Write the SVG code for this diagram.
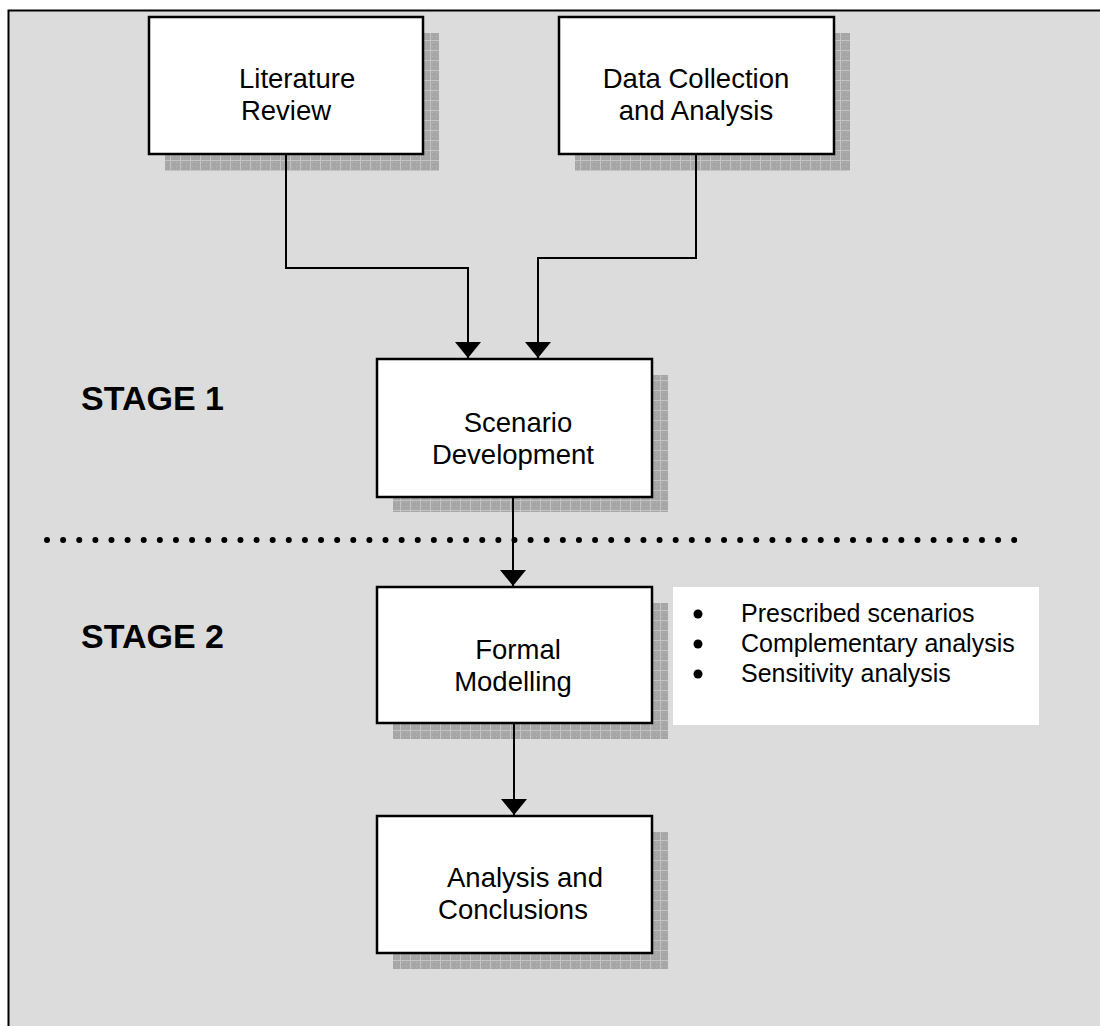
<svg xmlns="http://www.w3.org/2000/svg" width="1100" height="1026" viewBox="0 0 1100 1026">
<defs>
<pattern id="shade" patternUnits="userSpaceOnUse" width="10" height="10">
<rect width="10" height="10" fill="#a6a6a6"/>
<path d="M0,0.5 H10 M0.5,0 V10" stroke="#c4c4c4" stroke-width="1"/>
<path d="M2,2 h1 v1 h-1z M6,6 h1 v1 h-1z M6,2 h1 v1 h-1z M2,6 h1 v1 h-1z" fill="#b8b8b8"/>
</pattern>
<marker id="arr" viewBox="0 0 16 26" refX="16" refY="13" markerWidth="16" markerHeight="26" markerUnits="userSpaceOnUse" orient="auto">
<path d="M0,0 L16,13 L0,26 z" fill="#000"/>
</marker>
</defs>
<style>
.box{fill:#fff;stroke:#000;stroke-width:2.5}
.shadow{fill:url(#shade)}
.t{font-family:"Liberation Sans",Arial,sans-serif;font-size:27.5px;fill:#000}
.b{font-family:"Liberation Sans",Arial,sans-serif;font-size:25px;fill:#000}
.stage{font-family:"Liberation Sans",Arial,sans-serif;font-size:34px;font-weight:bold;fill:#000}
.conn{fill:none;stroke:#000;stroke-width:2}
</style>
<rect x="0" y="0" width="1100" height="1026" fill="#fff"/>
<rect x="8.5" y="10.5" width="1200" height="1100" fill="#dcdcdc" stroke="#000" stroke-width="2"/>
<line x1="47" y1="540" x2="1016" y2="540" stroke="#000" stroke-width="6" stroke-linecap="round" stroke-dasharray="0 16.12"/>
<g id="stage1"><text class="stage" x="81" y="410">STAGE 1</text></g>
<g id="stage2"><text class="stage" x="81" y="648">STAGE 2</text></g>
<g id="literature">
<rect class="shadow" x="165" y="33" width="274" height="138"/>
<rect class="box" x="149" y="17" width="274" height="137"/>
<text class="t" x="239" y="88">Literature</text>
<text class="t" x="286" y="120" text-anchor="middle">Review</text>
</g>
<g id="data">
<rect class="shadow" x="575" y="33" width="275" height="138"/>
<rect class="box" x="559" y="17" width="275" height="137"/>
<text class="t" x="696" y="88" text-anchor="middle">Data Collection</text>
<text class="t" x="696" y="120" text-anchor="middle">and Analysis</text>
</g>
<g id="scenario">
<rect class="shadow" x="393" y="375" width="275" height="137"/>
<rect class="box" x="377" y="359" width="275" height="138"/>
<text class="t" x="518" y="432" text-anchor="middle">Scenario</text>
<text class="t" x="513" y="464" text-anchor="middle">Development</text>
</g>
<g id="formal">
<rect class="shadow" x="393" y="603" width="275" height="136"/>
<rect class="box" x="377" y="587" width="275" height="136"/>
<text class="t" x="518" y="659" text-anchor="middle">Formal</text>
<text class="t" x="513" y="691" text-anchor="middle">Modelling</text>
</g>
<g id="bullets">
<rect x="673" y="587" width="366" height="138" fill="#fff"/>
<circle cx="698" cy="614" r="4.5"/>
<circle cx="698" cy="644" r="4.5"/>
<circle cx="698" cy="674" r="4.5"/>
<text class="b" x="741" y="622">Prescribed scenarios</text>
<text class="b" x="741" y="652">Complementary analysis</text>
<text class="b" x="741" y="682">Sensitivity analysis</text>
</g>
<g id="analysis">
<rect class="shadow" x="393" y="832" width="275" height="137"/>
<rect class="box" x="377" y="816" width="275" height="137"/>
<text class="t" x="525" y="887" text-anchor="middle">Analysis and</text>
<text class="t" x="513" y="919" text-anchor="middle">Conclusions</text>
</g>
<g id="connectors">
<path class="conn" d="M286,154 V268 H468 V358" marker-end="url(#arr)"/>
<path class="conn" d="M696,154 V258 H538 V358" marker-end="url(#arr)"/>
<path class="conn" d="M513,497 V586" marker-end="url(#arr)"/>
<path class="conn" d="M514,723 V815" marker-end="url(#arr)"/>
</g>
</svg>
